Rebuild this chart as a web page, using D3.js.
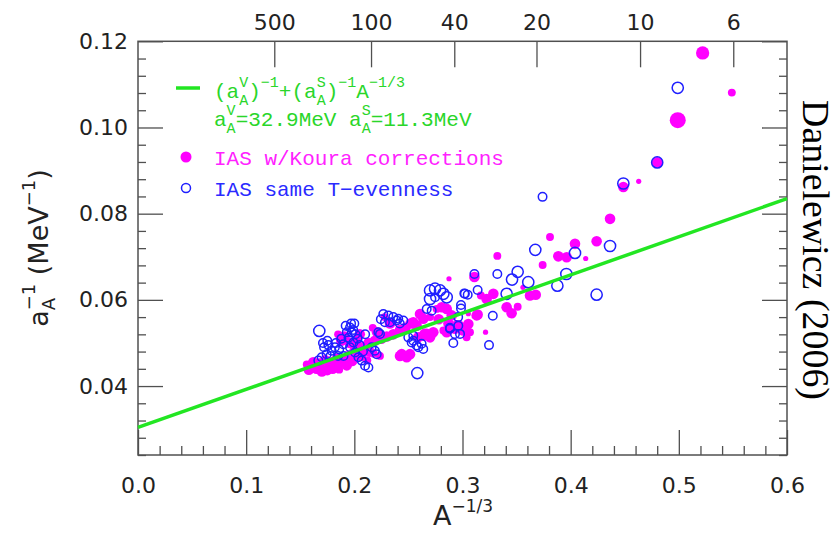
<!DOCTYPE html>
<html><head><meta charset="utf-8">
<script src="https://cdn.jsdelivr.net/npm/d3@7"></script>
<style>html,body{margin:0;padding:0;background:#fff;} svg{display:block;}</style>
</head><body>
<script>
// ---------- data ----------
const xDomain = [0, 0.6];
const yDomain = [0.024, 0.12];
const xMajorTicks = [0, 0.1, 0.2, 0.3, 0.4, 0.5, 0.6];
const yMajorTicks = [0.04, 0.06, 0.08, 0.10, 0.12];
const topMassNumbers = [500, 100, 40, 20, 10, 6];
const aV = 32.9, aS = 11.3;   // MeV

// IAS w/Koura corrections: [A^-1/3, 1/a_A, weight]
const kouraPoints = [
  [0.522,0.1173,4],[0.549,0.1081,2],[0.499,0.1017,5],[0.480,0.0919,3],[0.4487,0.0862,3],
  [0.4629,0.0875,1],[0.4364,0.0788,3],[0.3809,0.0746,2],[0.404,0.0730,3],[0.424,0.0736,3],
  [0.3322,0.0702,2],[0.3886,0.0701,3],[0.3963,0.0699,3],[0.4139,0.0696,1],[0.3741,0.0681,2],
  [0.311,0.0653,3],[0.2875,0.0649,1],[0.3559,0.0629,1],[0.3624,0.0610,3],[0.3677,0.0612,3],
  [0.3285,0.0614,3],[0.3223,0.0602,3],[0.317,0.0610,2],[0.3408,0.0583,3],[0.3454,0.0569,3],
  [0.351,0.0584,2],[0.314,0.0566,3],[0.3054,0.0568,1],[0.3054,0.0544,3],[0.3131,0.0564,3],
  [0.297,0.0540,3],[0.293,0.0533,3],[0.3007,0.0529,3],[0.3069,0.0525,2],[0.3038,0.0513,2],
  [0.3213,0.0525,1],[0.2946,0.0544,2],[0.2854,0.0525,3],[0.29,0.0564,3],[0.2854,0.0579,3],
  [0.2808,0.0583,3],[0.2761,0.0579,2],[0.2607,0.0567,3],[0.2638,0.0556,3],[0.2545,0.0548,3],
  [0.2576,0.0540,3],[0.2638,0.0517,3],[0.2669,0.0521,3],[0.27,0.0513,3],[0.273,0.0525,3],
  [0.2823,0.0529,2],[0.2438,0.0474,3],[0.2484,0.0467,3],[0.2515,0.0474,3],[0.2422,0.0470,3],
  [0.2237,0.0470,2],[0.259,0.0513,3],[0.265,0.0521,3],[0.2422,0.0530,3],[0.2360,0.0520,3],
  [0.2300,0.0515,3],[0.2250,0.0510,3],[0.2190,0.0505,3],[0.2130,0.0500,3],[0.2210,0.0525,3],
  [0.2170,0.0535,2],[0.2080,0.0490,3],[0.2040,0.0485,3],[0.2000,0.0480,3],[0.1950,0.0470,3],
  [0.1900,0.0460,3],[0.1850,0.0450,3],[0.1800,0.0440,3],[0.1750,0.0437,3],[0.1700,0.0434,3],
  [0.1650,0.0440,3],[0.1600,0.0445,3],[0.1560,0.0450,2],[0.1620,0.0455,3],[0.1680,0.0452,3],
  [0.1730,0.0460,3],[0.1790,0.0455,3],[0.1840,0.0464,3],[0.1880,0.0505,3],[0.1910,0.0515,3],
  [0.1850,0.0520,2],[0.1960,0.0500,3],[0.2020,0.0505,3],[0.2120,0.0460,2],[0.2180,0.0475,2],
  [0.2280,0.0560,2],[0.2330,0.0545,3],[0.2700,0.0560,2],[0.2780,0.0555,3],[0.2870,0.0545,3],
  [0.158,0.0438,3],[0.167,0.0446,3],[0.177,0.0447,3],[0.186,0.0438,2],[0.193,0.0448,3],
  [0.198,0.0458,3],[0.206,0.0470,3],[0.214,0.0480,3],[0.205,0.0520,3],[0.247,0.0535,3],
  [0.252,0.0545,3]
];

// IAS same T-evenness: [A^-1/3, 1/a_A, weight]
const sameTPoints = [
  [0.499,0.1092,3],[0.480,0.0919,3],[0.4487,0.0870,3],[0.374,0.0839,2],[0.4364,0.0725,3],
  [0.3673,0.0716,3],[0.404,0.0709,3],[0.351,0.0665,3],[0.3322,0.0660,2],[0.311,0.0660,2],
  [0.3458,0.0647,3],[0.396,0.0660,3],[0.3608,0.0641,3],[0.3877,0.0633,3],[0.424,0.0612,3],
  [0.3408,0.0614,3],[0.314,0.0623,2],[0.3048,0.0612,2],[0.3017,0.0615,2],[0.328,0.0563,2],
  [0.2986,0.0588,2],[0.2986,0.0580,2],[0.296,0.0560,2],[0.2884,0.0535,2],[0.293,0.0521,2],
  [0.2915,0.0500,2],[0.3245,0.0495,2],[0.2582,0.0430,3],[0.1676,0.0528,3],[0.27,0.0622,3],
  [0.2746,0.0626,3],[0.2792,0.0622,3],[0.2823,0.0614,3],[0.2854,0.0606,3],[0.27,0.0602,3],
  [0.2746,0.0606,2],[0.3022,0.0614,2],[0.2669,0.0579,2],[0.2715,0.0575,2],[0.2884,0.0533,2],
  [0.2977,0.0521,2],[0.2961,0.0540,2],[0.2268,0.0567,2],[0.2314,0.0564,2],[0.236,0.0560,2],
  [0.2406,0.0556,2],[0.2453,0.0552,2],[0.233,0.0548,2],[0.2283,0.0548,2],[0.2237,0.0521,2],
  [0.2222,0.0525,2],[0.2392,0.0552,2],[0.2499,0.0513,2],[0.2545,0.0517,2],[0.253,0.0501,2],
  [0.2576,0.0494,2],[0.2622,0.0498,2],[0.2637,0.0486,2],[0.2591,0.0490,2],[0.2545,0.0505,2],
  [0.196,0.0536,2],[0.1977,0.0524,2],[0.1946,0.0512,2],[0.1992,0.0501,2],[0.1898,0.0497,2],
  [0.196,0.0490,2],[0.2007,0.0478,2],[0.2038,0.0467,2],[0.2068,0.0459,2],[0.2099,0.0447,2],
  [0.213,0.0443,2],[0.219,0.0482,2],[0.2207,0.0474,2],[0.216,0.0490,2],[0.182,0.0490,2],
  [0.179,0.0482,2],[0.1744,0.0474,2],[0.1698,0.0467,2],[0.1667,0.0459,2],[0.171,0.0500,2],
  [0.176,0.0495,2],[0.186,0.0485,2],[0.190,0.0470,2],[0.185,0.0470,2],[0.178,0.0470,2],
  [0.201,0.0520,2],[0.203,0.0510,2],[0.199,0.0530,2],[0.193,0.0525,2],[0.200,0.0545,2],
  [0.197,0.0545,2],[0.172,0.0490,2],[0.175,0.0505,2],[0.183,0.0500,2],[0.188,0.0510,2],
  [0.192,0.0540,2],[0.205,0.0495,2],[0.208,0.0480,2],[0.210,0.0520,2],[0.2245,0.0555,2],
  [0.2420,0.0545,2]
];

// ---------- drawing ----------
const W = 836, H = 534;
const svg = d3.select("body").append("svg").attr("width", W).attr("height", H);

const x = d3.scaleLinear().domain(xDomain).range([138, 787]);
const y = d3.scaleLinear().domain(yDomain).range([455, 41.3]);
const r = d3.scaleLinear().domain([1, 5]).range([2.6, 8]);

const GREEN = "#22e622", MAG = "#ff00ff", BLUE = "#1f1fff", AXC = "#505050";
const tickFont = "DejaVu Sans, sans-serif";

const yMinor = d3.range(0.024, 0.1201, 0.004).filter(v => !yMajorTicks.some(m => Math.abs(m - v) < 1e-6));
const xMinor = d3.range(0.02, 0.6, 0.02).filter(v => !xMajorTicks.some(m => Math.abs(m - v) < 1e-6));

function styleAxis(g) {
  g.select(".domain").remove();
  g.selectAll("line").attr("stroke", AXC).attr("stroke-width", 1.3);
  g.selectAll("text").attr("font-family", tickFont).attr("font-size", 22).attr("fill", "#222");
}

// left
svg.append("g").attr("transform", "translate(138,0)")
  .call(d3.axisLeft(y).tickValues(yMajorTicks).tickSize(-25).tickPadding(10).tickFormat(d3.format(".2f")))
  .call(styleAxis);
svg.append("g").attr("transform", "translate(138,0)")
  .call(d3.axisLeft(y).tickValues(yMinor).tickSize(-8).tickFormat(""))
  .call(styleAxis);
// right
svg.append("g").attr("transform", "translate(787,0)")
  .call(d3.axisRight(y).tickValues(yMajorTicks).tickSize(-25).tickFormat(""))
  .call(styleAxis);
svg.append("g").attr("transform", "translate(787,0)")
  .call(d3.axisRight(y).tickValues(yMinor).tickSize(-8).tickFormat(""))
  .call(styleAxis);
// bottom
svg.append("g").attr("transform", "translate(0,455)")
  .call(d3.axisBottom(x).tickValues(xMajorTicks).tickSize(-25).tickPadding(22).tickFormat(d3.format(".1f")))
  .call(styleAxis);
svg.append("g").attr("transform", "translate(0,455)")
  .call(d3.axisBottom(x).tickValues(xMinor).tickSize(-9).tickFormat(""))
  .call(styleAxis);
// top (mass number A)
svg.append("g").attr("transform", "translate(0,41.3)")
  .call(d3.axisTop(x).tickValues(topMassNumbers.map(a => Math.pow(a, -1/3)))
    .tickSize(-26).tickPadding(11).tickFormat((d, i) => topMassNumbers[i]))
  .call(styleAxis);

// frame
svg.append("rect").attr("x", 138).attr("y", 41.3).attr("width", 787 - 138).attr("height", 455 - 41.3)
  .attr("fill", "none").attr("stroke", AXC).attr("stroke-width", 1.5);

// points
svg.append("g").selectAll("circle").data(kouraPoints).join("circle")
  .attr("cx", d => x(d[0])).attr("cy", d => y(d[1])).attr("r", d => r(d[2]))
  .attr("fill", MAG);
svg.append("g").selectAll("circle").data(sameTPoints).join("circle")
  .attr("cx", d => x(d[0])).attr("cy", d => y(d[1])).attr("r", d => r(d[2]) + 0.3)
  .attr("fill", "none").attr("stroke", BLUE).attr("stroke-width", 1.5);

// fit line
const fit = v => 1 / aV + v / aS;
svg.append("line")
  .attr("x1", x(xDomain[0])).attr("y1", y(fit(xDomain[0])))
  .attr("x2", x(xDomain[1])).attr("y2", y(fit(xDomain[1])))
  .attr("stroke", GREEN).attr("stroke-width", 3.5);

// ---------- rich text helper ----------
function rich(parent, x0, y0, segs, o) {
  const g = parent.append("g");
  let cx = 0;
  const mk = (t, fs, dyv, xx) => g.append("text").attr("x", xx).attr("y", dyv).text(t)
    .attr("xml:space", "preserve").style("white-space", "pre")
    .attr("font-family", o.font).attr("font-size", fs).attr("fill", o.color);
  segs.forEach(s => {
    if (s.t !== undefined) {
      const n = mk(s.t, o.size, 0, cx); cx += n.node().getComputedTextLength();
    } else {
      let w = 0;
      if (s.sup !== undefined) { const n = mk(s.sup, o.small, -o.supShift, cx); w = Math.max(w, n.node().getComputedTextLength()); }
      if (s.sub !== undefined) { const n = mk(s.sub, o.small, o.subShift, cx); w = Math.max(w, n.node().getComputedTextLength()); }
      cx += w;
    }
  });
  let tx = x0;
  if (o.anchor === "middle") tx = x0 - cx / 2;
  g.attr("transform", (o.rotate ? `translate(${x0},${y0}) rotate(${o.rotate}) translate(${-cx/2},0)` : `translate(${tx},${y0})`));
  return g;
}

// legend
const monoFont = "Liberation Mono, DejaVu Sans Mono, monospace";
svg.append("line").attr("x1", 176).attr("x2", 200).attr("y1", 88).attr("y2", 88)
  .attr("stroke", GREEN).attr("stroke-width", 3.5);
const legOpt = {font: monoFont, size: 21, small: 15, color: "#2ad62a", supShift: 11, subShift: 7};
rich(svg, 214, 98, [{t:"(a"},{sup:"V", sub:"A"},{t:")"},{sup:"−1"},{t:"+(a"},{sup:"S", sub:"A"},{t:")"},{sup:"−1"},{t:"A"},{sup:"−1/3"}], legOpt);
rich(svg, 214, 126, [{t:"a"},{sup:"V", sub:"A"},{t:"=32.9MeV a"},{sup:"S", sub:"A"},{t:"=11.3MeV"}], legOpt);

svg.append("circle").attr("cx", 186).attr("cy", 157).attr("r", 5.5).attr("fill", MAG);
svg.append("text").attr("x", 214).attr("y", 165).text("IAS w/Koura corrections")
  .attr("font-family", monoFont).attr("font-size", 21).attr("fill", "#ff22ff");
svg.append("circle").attr("cx", 186).attr("cy", 188).attr("r", 4.5).attr("fill", "none")
  .attr("stroke", BLUE).attr("stroke-width", 1.5);
svg.append("text").attr("x", 214).attr("y", 196).text("IAS same T−evenness")
  .attr("font-family", monoFont).attr("font-size", 21).attr("fill", "#2a2aff");

// axis titles
rich(svg, 463, 525, [{t:"A"},{sup:"−1/3"}], {font: tickFont, size: 27, small: 17, color: "#222", supShift: 13, subShift: 6, anchor: "middle"});
rich(svg, 48, 248, [{t:"a"},{sup:"−1", sub:"A"},{t:"\u00a0(MeV"},{sup:"−1"},{t:")"}],
  {font: tickFont, size: 27, small: 18, color: "#222", supShift: 13, subShift: 7, rotate: -90});

// side note
svg.append("text").attr("transform", "translate(803,250) rotate(90)")
  .attr("text-anchor", "middle").attr("font-family", "Liberation Serif, Times New Roman, serif")
  .attr("font-size", 38).attr("fill", "#000")
  .attr("textLength", 300).attr("lengthAdjust", "spacingAndGlyphs")
  .text("Danielewicz (2006)");
</script>
</body></html>
